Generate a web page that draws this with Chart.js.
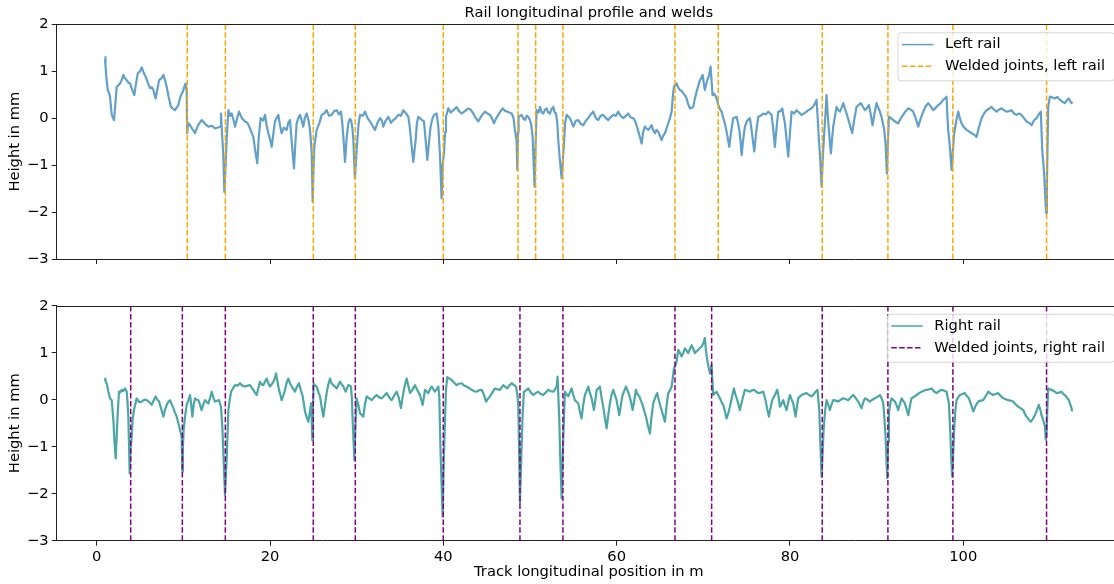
<!DOCTYPE html>
<html>
<head>
<meta charset="utf-8">
<script src="https://cdn.jsdelivr.net/npm/chart.js@4.4.0/dist/chart.umd.min.js"></script>
<style>
  html, body { margin: 0; padding: 0; background: #fff; }
  #wrap { position: relative; width: 1114px; height: 584px; overflow: hidden; }
  canvas { position: absolute; left: 0; }
  #topChart { top: 0; }
  #bottomChart { top: 290px; }
</style>
</head>
<body>
<div id="wrap">
  <canvas id="topChart" width="1124" height="290"></canvas>
  <canvas id="bottomChart" width="1124" height="294"></canvas>
</div>
<script>
// positions of the welded joints (m)
const leftWelds = [10.45, 14.84, 24.99, 29.84, 39.99, 48.61, 50.65, 53.8, 66.73, 71.72, 83.72, 91.3, 98.8, 109.61];
const rightWelds = [3.92, 9.88, 14.84, 24.99, 29.84, 39.99, 48.84, 53.8, 66.73, 70.96, 83.72, 91.3, 98.8, 109.61];

// rail profile, [position m, height mm]
const leftRail = [
  [0.96,1.25],[0.99,1.30],[1.03,1.12],[1.1,0.9],[1.27,0.60],[1.4,0.55],[1.53,0.46],[1.73,0.07],[1.85,0.02],[2.0,-0.04],
  [2.15,0.30],[2.3,0.67],[2.5,0.70],[2.69,0.74],[2.85,0.80],[3.07,0.92],[3.25,0.85],[3.46,0.81],[3.65,0.76],[3.84,0.74],
  [4.1,0.60],[4.34,0.49],[4.5,0.70],[4.73,0.95],[5.0,1.0],[5.19,1.08],[5.4,0.98],[5.65,0.88],[5.9,0.75],[6.15,0.64],
  [6.35,0.66],[6.53,0.60],[6.8,0.42],[7.0,0.62],[7.19,0.81],[7.45,0.85],[7.69,0.92],[7.9,0.80],[8.07,0.67],[8.3,0.45],
  [8.57,0.24],[8.8,0.20],[9.03,0.17],[9.2,0.22],[9.42,0.28],[9.6,0.42],[9.73,0.49],[9.9,0.55],[10.11,0.67],[10.26,0.74],
  [10.38,0.55],[10.44,-0.32],[10.55,-0.10],[10.77,-0.15],[11.0,-0.22],[11.34,-0.32],[11.7,-0.15],[12.1,-0.04],[12.5,-0.12],[12.88,-0.18],
  [13.3,-0.16],[13.65,-0.22],[14.0,-0.20],[14.23,-0.18],[14.34,0.10],[14.45,-0.30],[14.6,-0.75],[14.73,-1.57],[14.88,-0.96],[15.0,-0.40],
  [15.19,0.17],[15.4,0.05],[15.57,0.10],[15.8,-0.05],[15.96,-0.18],[16.2,0.00],[16.42,0.14],[16.75,0.00],[17.11,-0.07],[17.4,-0.10],
  [17.69,-0.22],[18.07,-0.40],[18.3,-0.70],[18.53,-0.96],[18.7,-0.40],[18.92,0.00],[19.2,-0.05],[19.42,0.07],[19.6,-0.15],[19.8,-0.32],
  [20.0,-0.45],[20.19,-0.61],[20.4,-0.30],[20.57,-0.07],[20.75,0.00],[20.96,0.07],[21.15,-0.15],[21.34,-0.32],[21.6,-0.20],[21.92,-0.25],
  [22.1,-0.10],[22.3,-0.04],[22.5,-0.50],[22.76,-1.07],[22.9,-0.60],[23.07,-0.11],[23.25,0.00],[23.46,0.07],[23.65,-0.05],[23.84,-0.18],
  [24.0,0.00],[24.23,0.10],[24.45,-0.05],[24.61,-0.25],[24.8,-0.70],[24.92,-1.78],[25.0,-1.20],[25.11,-0.61],[25.38,-0.25],[25.7,-0.10],
  [25.96,0.07],[26.25,0.10],[26.53,0.17],[26.8,0.05],[27.11,0.07],[27.4,0.15],[27.69,0.17],[27.95,0.08],[28.19,0.14],[28.34,-0.11],
  [28.5,-0.50],[28.65,-0.93],[28.85,-0.40],[29.03,-0.11],[29.2,-0.02],[29.34,-0.04],[29.5,-0.20],[29.61,-0.47],[29.8,-1.28],[29.99,-0.68],
  [30.2,-0.15],[30.38,0.07],[30.7,0.05],[30.96,0.14],[31.25,0.00],[31.53,-0.07],[31.8,-0.15],[32.11,-0.25],[32.4,-0.10],[32.69,0.00],
  [32.9,-0.05],[33.07,-0.18],[33.35,-0.05],[33.65,0.03],[33.95,-0.10],[34.23,-0.04],[34.5,0.00],[34.8,0.07],[35.1,0.05],[35.38,0.17],
  [35.7,0.10],[35.96,0.03],[36.1,-0.15],[36.27,-0.47],[36.53,-0.93],[36.8,-0.47],[36.95,-0.10],[37.11,0.03],[37.4,-0.02],[37.76,-0.07],
  [37.95,-0.45],[38.15,-0.89],[38.35,-0.50],[38.53,-0.18],[38.75,0.00],[38.92,0.07],[39.22,0.10],[39.42,-0.18],[39.6,-0.75],[39.8,-1.71],
  [39.9,-1.03],[40.07,-0.75],[40.2,-0.30],[40.3,0.03],[40.57,0.21],[40.85,0.12],[41.15,0.17],[41.53,0.24],[41.8,0.15],[42.11,0.10],
  [42.5,0.15],[42.88,0.21],[43.15,0.18],[43.45,0.10],[43.75,0.00],[44.03,-0.07],[44.4,0.05],[44.8,0.14],[45.1,0.10],[45.38,0.07],
  [45.6,0.00],[45.84,-0.11],[46.1,0.00],[46.34,0.07],[46.6,0.15],[46.84,0.21],[47.1,0.16],[47.38,0.14],[47.6,0.12],[47.88,0.10],
  [48.1,0.00],[48.26,-0.25],[48.45,-0.47],[48.53,-1.10],[48.62,-0.30],[48.68,0.03],[49.03,0.07],[49.2,0.00],[49.42,-0.04],[49.6,0.05],
  [49.8,0.03],[49.99,-0.04],[50.15,-0.15],[50.3,-0.40],[50.53,-1.46],[50.65,-0.50],[50.76,0.17],[51.0,0.12],[51.15,0.24],[51.35,0.12],
  [51.53,0.10],[51.72,0.18],[51.92,0.21],[52.1,0.12],[52.3,0.10],[52.5,0.20],[52.69,0.24],[52.85,0.12],[53.0,0.10],[53.15,-0.10],
  [53.26,-0.47],[53.45,-0.90],[53.65,-1.28],[53.92,-0.54],[54.05,-0.10],[54.23,0.07],[54.61,0.00],[55.0,-0.18],[55.3,-0.05],[55.57,-0.04],
  [55.85,-0.12],[56.15,-0.15],[56.45,-0.05],[56.72,0.00],[57.0,0.08],[57.3,0.14],[57.6,0.00],[57.88,-0.04],[58.15,0.05],[58.45,0.07],
  [58.75,0.00],[59.03,-0.04],[59.3,0.02],[59.61,0.07],[59.9,0.05],[60.18,0.14],[60.45,0.05],[60.76,0.00],[61.05,0.05],[61.34,0.10],
  [61.6,0.02],[61.92,0.00],[62.1,-0.05],[62.3,-0.15],[62.45,-0.25],[62.61,-0.36],[62.75,-0.45],[62.88,-0.54],[63.05,-0.30],[63.26,-0.18],
  [63.45,-0.22],[63.65,-0.25],[63.85,-0.20],[64.03,-0.15],[64.2,-0.25],[64.42,-0.32],[64.6,-0.25],[64.8,-0.29],[65.0,-0.38],[65.18,-0.47],
  [65.35,-0.38],[65.57,-0.32],[65.75,-0.22],[65.95,-0.11],[66.15,0.00],[66.34,0.14],[66.5,0.50],[66.61,0.67],[66.92,0.74],[67.1,0.65],
  [67.3,0.60],[67.5,0.58],[67.69,0.53],[67.9,0.48],[68.07,0.42],[68.25,0.30],[68.45,0.21],[68.65,0.22],[68.84,0.24],[69.0,0.40],
  [69.22,0.56],[69.4,0.68],[69.61,0.81],[69.75,0.85],[69.92,0.92],[70.05,0.75],[70.18,0.60],[70.3,0.70],[70.45,0.81],[70.65,0.90],
  [70.84,1.10],[70.95,0.80],[71.07,0.49],[71.25,0.52],[71.45,0.46],[71.6,0.38],[71.72,0.28],[71.9,0.20],[72.11,0.14],[72.3,0.00],
  [72.49,-0.11],[72.75,-0.35],[72.99,-0.61],[73.2,-0.30],[73.45,0.00],[73.84,0.03],[74.0,-0.10],[74.15,-0.25],[74.3,-0.50],[74.42,-0.79],
  [74.6,-0.45],[74.8,-0.18],[75.05,-0.05],[75.38,0.00],[75.6,-0.30],[75.88,-0.71],[76.1,-0.30],[76.34,0.03],[76.6,0.05],[76.92,0.10],
  [77.2,0.08],[77.49,0.14],[77.7,0.10],[77.88,0.07],[78.05,-0.20],[78.26,-0.61],[78.45,-0.20],[78.65,0.14],[78.9,0.15],[79.11,0.21],
  [79.25,0.05],[79.42,-0.11],[79.6,-0.45],[79.8,-0.82],[80.0,-0.30],[80.19,0.14],[80.5,0.10],[80.76,0.17],[81.05,0.12],[81.34,0.07],
  [81.6,0.10],[81.92,0.14],[82.2,0.18],[82.49,0.21],[82.8,0.28],[83.07,0.39],[83.2,0.00],[83.34,-0.47],[83.5,-0.90],[83.65,-1.46],
  [83.8,-0.80],[83.95,-0.32],[84.1,0.10],[84.22,0.49],[84.35,0.10],[84.49,-0.25],[84.6,-0.50],[84.72,-0.75],[84.85,-0.45],[84.99,-0.18],
  [85.2,0.05],[85.38,0.24],[85.55,0.18],[85.76,0.14],[85.95,0.22],[86.15,0.32],[86.35,0.20],[86.53,0.10],[86.85,-0.10],[87.18,-0.32],
  [87.4,-0.05],[87.68,0.24],[87.9,0.28],[88.18,0.32],[88.4,0.25],[88.65,0.17],[88.9,0.22],[89.11,0.28],[89.3,0.10],[89.53,-0.15],
  [89.75,0.10],[89.99,0.32],[90.2,0.22],[90.38,0.14],[90.6,0.00],[90.88,-0.25],[91.05,-0.60],[91.18,-1.18],[91.3,-0.50],[91.42,0.03],
  [91.65,0.00],[91.92,-0.04],[92.2,-0.08],[92.49,-0.11],[92.8,0.00],[93.07,0.07],[93.35,0.15],[93.65,0.21],[93.95,0.18],[94.22,0.14],
  [94.5,0.00],[94.8,-0.18],[95.1,0.00],[95.38,0.14],[95.65,0.25],[95.95,0.32],[96.25,0.25],[96.53,0.17],[96.8,0.22],[97.11,0.28],
  [97.4,0.32],[97.68,0.39],[97.9,0.42],[98.07,0.46],[98.15,0.10],[98.26,-0.25],[98.45,-0.60],[98.65,-1.10],[98.8,-0.70],[98.95,-0.32],
  [99.2,-0.05],[99.42,0.14],[99.6,0.00],[99.8,-0.11],[100.1,-0.20],[100.38,-0.25],[100.65,-0.28],[100.95,-0.32],[101.25,-0.35],[101.53,-0.40],
  [101.8,-0.20],[102.11,0.00],[102.4,0.10],[102.68,0.17],[102.95,0.20],[103.26,0.24],[103.55,0.18],[103.84,0.14],[104.1,0.18],[104.42,0.21],
  [104.7,0.17],[104.99,0.14],[105.3,0.15],[105.57,0.17],[105.85,0.10],[106.15,0.07],[106.45,0.10],[106.72,0.07],[107.0,0.00],[107.3,-0.07],
  [107.6,-0.10],[107.88,-0.15],[108.15,-0.05],[108.45,0.00],[108.7,0.08],[108.95,0.14],[109.11,-0.68],[109.3,-1.10],[109.42,-1.53],[109.55,-2.02],
  [109.65,-1.40],[109.8,0.24],[109.99,0.46],[110.3,0.44],[110.57,0.42],[110.85,0.45],[111.15,0.39],[111.45,0.35],[111.72,0.32],[111.95,0.38],
  [112.18,0.42],[112.35,0.36],[112.49,0.32],[112.6,0.35]
];

const rightRail = [
  [0.96,0.45],[1.0,0.40],[1.15,0.35],[1.34,0.17],[1.53,0.03],[1.73,-0.01],[1.92,-0.43],[2.05,-0.90],[2.19,-1.25],[2.3,-0.80],
  [2.42,-0.29],[2.57,0.17],[2.7,0.15],[2.88,0.21],[3.05,0.18],[3.27,0.24],[3.46,0.17],[3.55,-0.05],[3.65,-0.36],[3.8,-1.57],
  [3.92,-1.00],[4.03,-0.79],[4.15,-0.40],[4.34,-0.18],[4.61,0.03],[4.9,-0.05],[5.19,-0.04],[5.5,0.00],[5.77,-0.01],[6.05,-0.05],
  [6.34,-0.11],[6.6,0.00],[6.8,0.07],[7.0,0.00],[7.19,-0.04],[7.45,-0.20],[7.69,-0.36],[7.9,-0.20],[8.07,-0.11],[8.25,-0.05],
  [8.46,-0.01],[8.65,-0.10],[8.84,-0.18],[9.05,-0.28],[9.23,-0.36],[9.42,-0.50],[9.61,-0.64],[9.8,-0.79],[9.88,-1.53],[9.95,-1.00],
  [10.03,-0.64],[10.2,-0.35],[10.38,-0.11],[10.6,0.00],[10.77,0.10],[10.9,-0.10],[11.03,-0.36],[11.2,-0.10],[11.34,0.03],[11.55,0.00],
  [11.73,-0.01],[11.9,-0.10],[12.11,-0.22],[12.3,-0.10],[12.5,-0.01],[12.7,-0.05],[12.88,-0.08],[13.1,0.05],[13.27,0.17],[13.45,0.05],
  [13.65,-0.04],[13.9,-0.02],[14.11,-0.01],[14.34,-0.15],[14.5,-0.60],[14.61,-1.14],[14.8,-2.03],[14.99,-1.28],[15.1,-0.70],[15.19,-0.22],
  [15.35,0.00],[15.5,0.17],[15.75,0.25],[15.96,0.31],[16.25,0.30],[16.53,0.35],[16.8,0.30],[17.11,0.28],[17.4,0.30],[17.69,0.31],
  [17.9,0.25],[18.07,0.21],[18.25,0.15],[18.46,0.10],[18.65,0.25],[18.84,0.38],[19.05,0.32],[19.23,0.31],[19.4,0.38],[19.61,0.45],
  [19.8,0.35],[19.99,0.28],[20.2,0.33],[20.38,0.38],[20.55,0.45],[20.69,0.56],[20.85,0.40],[21.03,0.21],[21.2,0.10],[21.34,-0.01],
  [21.55,0.10],[21.73,0.21],[21.9,0.35],[22.11,0.45],[22.3,0.35],[22.5,0.28],[22.7,0.22],[22.88,0.17],[23.1,0.28],[23.34,0.35],
  [23.55,0.20],[23.73,0.10],[23.9,-0.08],[24.03,-0.25],[24.25,-0.38],[24.42,-0.47],[24.6,-0.25],[24.73,-0.08],[24.8,-0.40],[24.88,-0.86],
  [24.95,-0.20],[25.03,0.35],[25.2,0.30],[25.38,0.28],[25.6,0.15],[25.77,0.07],[25.95,-0.15],[26.15,-0.36],[26.35,-0.10],[26.53,0.14],
  [26.7,0.30],[26.92,0.45],[27.1,0.35],[27.3,0.31],[27.5,0.28],[27.69,0.24],[27.9,0.32],[28.07,0.38],[28.25,0.33],[28.46,0.28],
  [28.6,0.22],[28.73,0.17],[28.9,0.25],[29.03,0.31],[29.2,0.30],[29.34,0.28],[29.45,0.00],[29.53,-0.43],[29.73,-1.28],[29.85,-0.60],
  [29.99,0.03],[30.2,-0.12],[30.38,-0.29],[30.55,-0.32],[30.76,-0.36],[30.95,-0.10],[31.15,0.07],[31.45,0.03],[31.73,-0.01],[32.0,0.05],
  [32.3,0.10],[32.6,0.05],[32.88,0.03],[33.15,0.08],[33.46,0.14],[33.75,0.05],[34.03,-0.01],[34.3,0.08],[34.61,0.17],[34.85,0.05],
  [35.11,-0.18],[35.25,0.00],[35.38,0.14],[35.55,0.30],[35.77,0.45],[35.95,0.30],[36.15,0.14],[36.45,0.22],[36.73,0.31],[37.0,0.20],
  [37.3,0.10],[37.45,0.00],[37.61,-0.11],[37.75,0.05],[37.88,0.21],[38.05,0.18],[38.26,0.14],[38.45,0.22],[38.65,0.28],[38.85,0.22],
  [39.03,0.17],[39.22,0.22],[39.42,0.28],[39.53,0.07],[39.68,-1.14],[39.92,-2.49],[40.07,-1.14],[40.3,0.21],[40.45,0.48],[40.7,0.45],
  [40.95,0.42],[41.25,0.36],[41.53,0.31],[41.8,0.34],[42.11,0.35],[42.4,0.30],[42.68,0.28],[42.95,0.25],[43.26,0.21],[43.55,0.18],
  [43.84,0.17],[44.1,0.20],[44.42,0.21],[44.7,0.10],[44.92,-0.04],[45.15,0.02],[45.38,0.07],[45.65,0.15],[45.95,0.24],[46.25,0.22],
  [46.53,0.21],[46.72,0.26],[46.92,0.31],[47.15,0.27],[47.38,0.24],[47.6,0.30],[47.88,0.35],[48.1,0.32],[48.38,0.28],[48.55,0.10],
  [48.65,-0.15],[48.75,-1.20],[48.84,-2.20],[49.03,-1.00],[49.15,-0.30],[49.3,0.17],[49.55,0.20],[49.8,0.24],[50.1,0.15],[50.38,0.10],
  [50.65,0.14],[50.95,0.17],[51.25,0.12],[51.53,0.10],[51.8,0.15],[52.11,0.21],[52.4,0.18],[52.69,0.17],[52.9,0.22],[53.07,0.28],
  [53.18,0.49],[53.38,-0.43],[53.5,-1.30],[53.65,-2.10],[53.84,-0.79],[54.03,0.17],[54.2,0.12],[54.42,0.07],[54.6,0.15],[54.8,0.24],
  [55.0,0.10],[55.18,-0.01],[55.4,-0.05],[55.57,-0.08],[55.75,-0.25],[55.95,-0.40],[56.15,-0.10],[56.34,0.10],[56.55,0.20],[56.72,0.28],
  [56.9,0.15],[57.11,0.03],[57.25,-0.10],[57.38,-0.22],[57.55,0.00],[57.69,0.21],[57.88,0.24],[58.07,0.28],[58.25,0.05],[58.45,-0.15],
  [58.65,-0.40],[58.84,-0.61],[59.05,-0.30],[59.22,-0.08],[59.4,0.10],[59.61,0.21],[59.8,0.10],[59.99,-0.01],[60.15,-0.18],[60.3,-0.33],
  [60.5,-0.10],[60.68,0.10],[60.9,0.20],[61.07,0.28],[61.25,0.20],[61.45,0.10],[61.65,-0.05],[61.84,-0.22],[62.05,0.00],[62.22,0.21],
  [62.4,0.12],[62.61,0.07],[62.8,-0.02],[62.99,-0.11],[63.2,-0.25],[63.38,-0.36],[63.6,-0.55],[63.84,-0.72],[64.0,-0.40],[64.22,-0.08],
  [64.45,0.05],[64.68,0.14],[64.85,0.00],[65.07,-0.15],[65.3,-0.30],[65.57,-0.47],[65.75,-0.15],[65.95,0.14],[66.15,0.20],[66.34,0.28],
  [66.5,0.50],[66.61,0.67],[66.8,0.74],[66.92,0.81],[67.11,1.06],[67.3,1.00],[67.49,0.92],[67.7,1.00],[67.88,1.09],[68.05,1.05],
  [68.26,0.99],[68.45,1.08],[68.65,1.16],[68.85,1.08],[69.03,0.99],[69.2,1.03],[69.42,1.06],[69.6,1.10],[69.8,1.13],[70.0,1.20],
  [70.18,1.31],[70.3,1.05],[70.45,0.85],[70.6,0.70],[70.76,0.56],[70.95,0.74],[71.05,0.40],[71.15,0.10],[71.35,0.14],[71.53,0.17],
  [71.72,0.10],[71.92,0.03],[72.1,-0.05],[72.3,-0.11],[72.5,-0.25],[72.68,-0.40],[72.9,-0.28],[73.07,-0.15],[73.3,0.05],[73.53,0.24],
  [73.72,0.10],[73.92,-0.01],[74.05,-0.10],[74.22,-0.22],[74.5,0.00],[74.8,0.21],[75.1,0.19],[75.38,0.17],[75.6,0.20],[75.88,0.21],
  [76.1,0.17],[76.34,0.14],[76.6,0.15],[76.92,0.17],[77.05,0.08],[77.18,-0.01],[77.35,-0.18],[77.57,-0.36],[77.75,-0.18],[77.95,-0.01],
  [78.25,0.10],[78.53,0.21],[78.7,0.05],[78.84,-0.15],[79.05,-0.08],[79.22,-0.01],[79.4,-0.12],[79.61,-0.22],[79.8,-0.05],[79.99,0.10],
  [80.2,0.00],[80.38,-0.08],[80.5,-0.22],[80.65,-0.36],[80.8,-0.15],[80.95,0.03],[81.15,0.07],[81.34,0.10],[81.6,0.12],[81.92,0.14],
  [82.2,0.10],[82.49,0.07],[82.75,0.12],[82.95,0.17],[83.18,0.21],[83.38,-0.22],[83.5,-0.90],[83.65,-1.64],[83.78,-1.10],[83.88,-0.64],
  [84.05,-0.25],[84.22,-0.01],[84.4,-0.10],[84.61,-0.22],[84.8,-0.10],[84.99,-0.01],[85.3,-0.02],[85.57,-0.04],[85.85,0.00],[86.15,0.03],
  [86.45,0.01],[86.72,-0.01],[87.0,0.05],[87.3,0.10],[87.6,0.03],[87.88,-0.04],[88.05,-0.10],[88.26,-0.18],[88.45,-0.06],[88.65,0.03],
  [88.95,0.00],[89.22,-0.04],[89.5,0.00],[89.8,0.03],[90.1,0.06],[90.38,0.10],[90.6,0.02],[90.76,-0.08],[90.9,-0.40],[91.03,-0.79],
  [91.22,-1.67],[91.32,-0.90],[91.42,-0.29],[91.55,-0.10],[91.72,0.03],[91.9,0.00],[92.11,-0.04],[92.3,-0.12],[92.49,-0.22],[92.7,-0.08],
  [92.88,0.03],[93.05,-0.02],[93.26,-0.08],[93.45,-0.20],[93.65,-0.33],[93.85,-0.12],[94.03,0.03],[94.3,0.06],[94.61,0.10],[94.9,0.14],
  [95.18,0.17],[95.45,0.19],[95.76,0.21],[96.05,0.22],[96.34,0.24],[96.6,0.18],[96.92,0.14],[97.2,0.18],[97.49,0.21],[97.8,0.19],
  [98.07,0.17],[98.2,0.05],[98.34,-0.08],[98.5,-0.70],[98.62,-1.30],[98.72,-1.64],[98.85,-1.10],[98.95,-0.64],[99.08,-0.25],[99.22,-0.01],
  [99.4,0.05],[99.61,0.10],[99.9,0.12],[100.18,0.14],[100.4,0.08],[100.65,0.03],[100.9,-0.10],[101.15,-0.25],[101.45,-0.12],[101.72,-0.04],
  [102.0,-0.02],[102.3,-0.01],[102.6,0.08],[102.88,0.17],[103.15,0.13],[103.45,0.10],[103.75,0.12],[104.03,0.14],[104.3,0.08],[104.61,0.03],
  [104.9,0.01],[105.18,-0.01],[105.45,-0.02],[105.76,-0.04],[106.05,-0.10],[106.34,-0.15],[106.6,-0.18],[106.92,-0.22],[107.1,-0.30],[107.3,-0.36],
  [107.55,-0.42],[107.8,-0.47],[108.05,-0.40],[108.26,-0.33],[108.5,-0.22],[108.72,-0.11],[108.9,-0.22],[109.03,-0.33],[109.25,-0.45],[109.42,-0.57],
  [109.52,-0.85],[109.61,-0.75],[109.7,-0.20],[109.8,0.24],[110.0,0.22],[110.18,0.21],[110.5,0.18],[110.76,0.14],[111.05,0.15],[111.34,0.17],
  [111.55,0.12],[111.72,0.10],[111.95,0.05],[112.18,-0.01],[112.35,-0.10],[112.49,-0.18],[112.55,-0.25]
];

const xTickStep = 20;
const yMin = -3, yMax = 2;

const FONT = "'DejaVu Sans', sans-serif";
const SIZE = 14.7;
Chart.defaults.font.family = FONT;
Chart.defaults.font.size = SIZE;
Chart.defaults.color = '#000';

// top spine (matplotlib draws a full frame)
const frame = {
  id: 'frame',
  afterDraw(chart) {
    const { ctx, chartArea: a } = chart;
    ctx.save();
    ctx.strokeStyle = '#222';
    ctx.lineWidth = 1;
    ctx.beginPath();
    ctx.moveTo(a.left, Math.round(a.top) + 0.5);
    ctx.lineTo(a.right, Math.round(a.top) + 0.5);
    ctx.stroke();
    ctx.restore();
  }
};

// matplotlib style legend box in the upper right corner
const boxLegend = {
  id: 'boxLegend',
  afterDraw(chart) {
    const { ctx, chartArea: a } = chart;
    const sets = chart.data.datasets;
    ctx.save();
    ctx.font = SIZE + 'px ' + FONT;
    const textW = Math.max(...sets.map(d => ctx.measureText(d.label).width));
    const w = 4.5 + 31.5 + 11.5 + textW + 9;
    const h = 48;
    const right = a.right - 7;
    const top = a.top + 8;
    const left = right - w;
    ctx.beginPath();
    ctx.roundRect(left + 0.5, top + 0.5, w, h, 3);
    ctx.fillStyle = 'rgba(255,255,255,0.8)';
    ctx.fill();
    ctx.strokeStyle = 'rgba(204,204,204,0.8)';
    ctx.lineWidth = 1;
    ctx.stroke();
    sets.forEach((d, i) => {
      const y = top + 12.3 + i * 21.7;
      ctx.beginPath();
      ctx.setLineDash(d.borderDash || []);
      ctx.strokeStyle = d.borderColor;
      ctx.lineWidth = 1.5;
      ctx.moveTo(left + 4.5, y);
      ctx.lineTo(left + 36, y);
      ctx.stroke();
      ctx.setLineDash([]);
      ctx.fillStyle = '#000';
      ctx.textBaseline = 'middle';
      ctx.textAlign = 'left';
      ctx.fillText(d.label, left + 47.5, y);
    });
    ctx.restore();
  }
};

function railPoints(rail) {
  return rail.map(([x, y]) => ({ x, y }));
}

function weldPoints(welds) {
  const pts = [];
  welds.forEach(w => {
    pts.push({ x: w, y: yMin }, { x: w, y: yMax }, { x: w, y: null });
  });
  return pts;
}

function minusSign(v) {
  return String(v).replace('-', '\u2212');
}

function makeChart(id, opts) {
  return new Chart(document.getElementById(id), {
    type: 'line',
    data: {
      datasets: [{
        label: opts.railLabel,
        data: railPoints(opts.rail),
        borderColor: opts.railColor,
        borderWidth: 2.2,
        borderJoinStyle: 'round',
        pointRadius: 0,
        tension: 0,
        order: 1
      }, {
        label: opts.weldLabel,
        data: weldPoints(opts.welds),
        borderColor: opts.weldColor,
        borderWidth: 1.5,
        borderDash: [5.5, 2.4],
        pointRadius: 0,
        spanGaps: false,
        order: 0
      }]
    },
    options: {
      responsive: false,
      animation: false,
      devicePixelRatio: 1,
      layout: { padding: { top: opts.padTop, right: 3, left: 0, bottom: 0 } },
      plugins: {
        legend: { display: false },
        tooltip: { enabled: false },
        title: {
          display: !!opts.title,
          text: opts.title,
          fullSize: false,
          font: { size: SIZE, weight: 'normal' },
          padding: { top: 4.4, bottom: 2.26 }
        }
      },
      scales: {
        x: {
          type: 'linear',
          min: -4.62,
          max: 118.2,
          border: { display: true, color: '#222' },
          grid: { drawOnChartArea: false, drawTicks: true, tickLength: 5, tickColor: '#222' },
          ticks: {
            stepSize: xTickStep,
            includeBounds: false,
            autoSkip: false,
            maxRotation: 0,
            padding: 3,
            callback: opts.xLabels ? (v => v) : (() => '')
          },
          title: {
            display: !!opts.xTitle,
            text: opts.xTitle,
            padding: { top: 0, bottom: 3 }
          },
          afterFit: s => { s.height = opts.xHeight; }
        },
        y: {
          min: yMin,
          max: yMax,
          border: { display: true, color: '#222' },
          grid: { drawOnChartArea: false, drawTicks: true, tickLength: 5, tickColor: '#222' },
          ticks: { stepSize: 1, padding: 3, callback: minusSign },
          title: { display: true, text: 'Height in mm', padding: { top: 6.7, bottom: 0 } },
          afterFit: s => { s.width = 56.7; }
        }
      }
    },
    plugins: [frame, boxLegend]
  });
}

makeChart('topChart', {
  rail: leftRail,
  welds: leftWelds,
  railLabel: 'Left rail',
  weldLabel: 'Welded joints, left rail',
  railColor: 'rgb(98,160,202)',
  weldColor: '#FFA500',
  title: 'Rail longitudinal profile and welds',
  padTop: 0,
  xLabels: false,
  xTitle: '',
  xHeight: 31
});

makeChart('bottomChart', {
  rail: rightRail,
  welds: rightWelds,
  railColor: 'rgb(76,166,166)',
  railLabel: 'Right rail',
  weldLabel: 'Welded joints, right rail',
  weldColor: '#800080',
  title: '',
  padTop: 15.7,
  xLabels: true,
  xTitle: 'Track longitudinal position in m',
  xHeight: 43.3
});
</script>
</body>
</html>
